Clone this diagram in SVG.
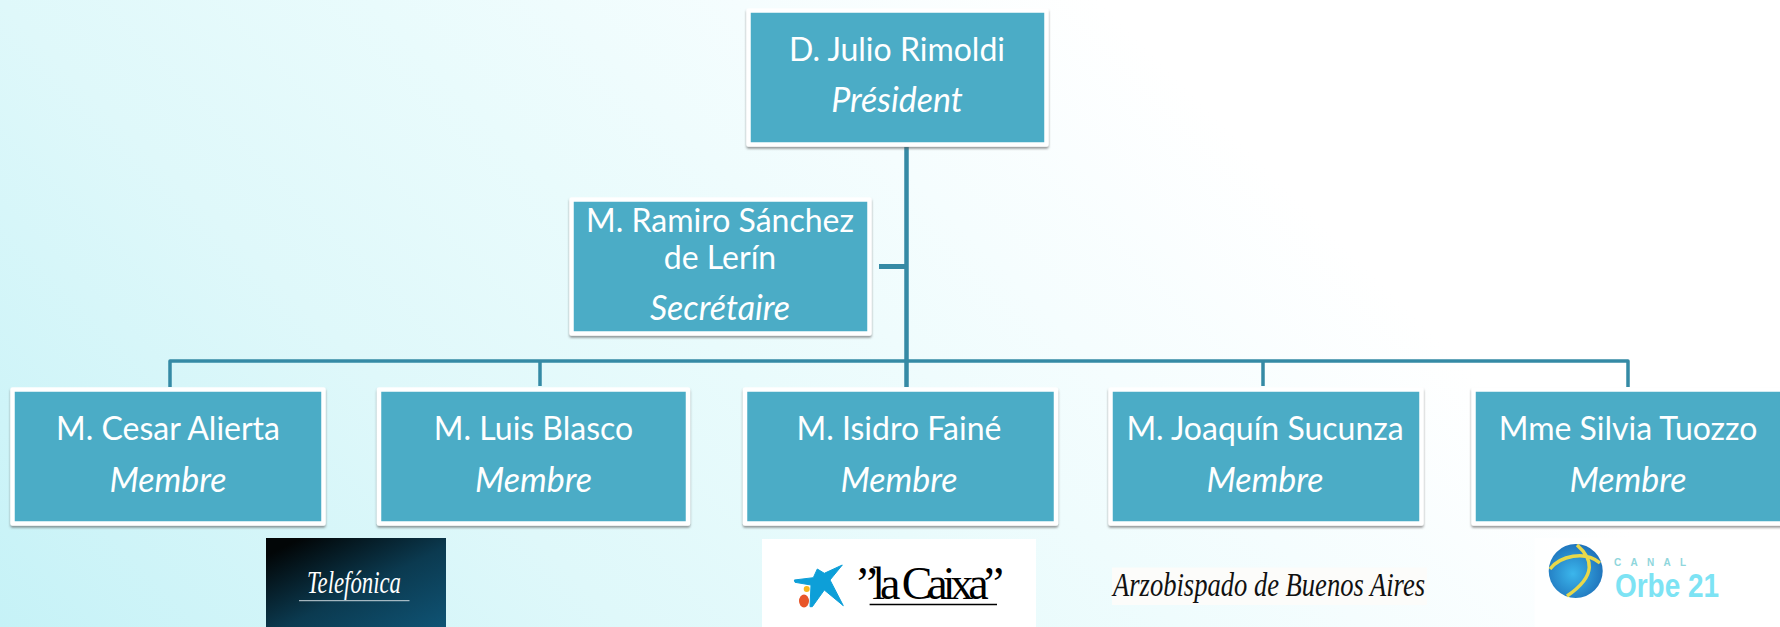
<svg xmlns="http://www.w3.org/2000/svg" width="1780" height="627" viewBox="0 0 1780 627">
<style>
.box{fill:#4bacc6;stroke:#fff;stroke-width:4.5;stroke-linejoin:round;filter:url(#sh)}
.n{font-family:"Lato","Carlito","Open Sans",sans-serif;font-size:32px;fill:#fff;text-anchor:middle}
.r{font-style:italic;font-size:34px}
.c{fill:none;stroke:#358aa5;stroke-width:3.5;stroke-linejoin:round}
</style>
<defs>
<linearGradient id="bg" gradientUnits="userSpaceOnUse" x1="0" y1="627" x2="863.5" y2="-236.5">
<stop offset="0" stop-color="#c6f2f7"/><stop offset="0.363" stop-color="#dff8fa"/><stop offset="0.577" stop-color="#e9fbfc"/><stop offset="0.79" stop-color="#f5fdfe"/><stop offset="1" stop-color="#ffffff"/>
</linearGradient>
<linearGradient id="tel" x1="0" y1="0" x2="1" y2="1">
<stop offset="0.1" stop-color="#020607"/><stop offset="0.55" stop-color="#0b3a50"/><stop offset="1" stop-color="#0f5374"/>
</linearGradient>
<radialGradient id="globe" cx="0.45" cy="0.55" r="0.6">
<stop offset="0" stop-color="#3bb6ec"/><stop offset="1" stop-color="#1d6fb8"/>
</radialGradient>
<filter id="sh" x="-5%" y="-5%" width="110%" height="115%">
<feDropShadow dx="0" dy="2" stdDeviation="1.2" flood-color="#555" flood-opacity="0.6"/>
</filter>
</defs>
<rect width="1780" height="627" fill="url(#bg)"/>
<g id="connectors">
<path class="c" style="stroke-width:4.5" d="M906.5 147V387"/>
<path class="c" style="stroke-width:5" d="M879 266.5H906"/>
<path class="c" d="M170 387V361H1628V387"/>
<path class="c" d="M540 361V386"/>
<path class="c" d="M1263 361V386"/>
</g>
<g id="president"><rect class="box" x="748.5" y="10.5" width="298" height="134"/>
<text class="n" x="897" y="61">D. Julio Rimoldi</text><text class="n r" x="897" y="112">Président</text></g>
<g id="secretaire"><rect class="box" x="571.5" y="199.5" width="298" height="134"/>
<text class="n" x="720" y="232">M. Ramiro Sánchez</text><text class="n" x="720" y="269">de Lerín</text><text class="n r" x="720" y="320">Secrétaire</text></g>
<g id="alierta"><rect class="box" x="12.5" y="389.5" width="311" height="134"/>
<text class="n" x="168" y="440">M. Cesar Alierta</text><text class="n r" x="168" y="492">Membre</text></g>
<g id="blasco"><rect class="box" x="379" y="389.5" width="309" height="134"/>
<text class="n" x="533.5" y="440">M. Luis Blasco</text><text class="n r" x="533.5" y="492">Membre</text></g>
<g id="faine"><rect class="box" x="745" y="389.5" width="311" height="134"/>
<text class="n" x="899" y="440">M. Isidro Fainé</text><text class="n r" x="899" y="492">Membre</text></g>
<g id="sucunza"><rect class="box" x="1110.5" y="389.5" width="311" height="134"/>
<text class="n" x="1265" y="440">M. Joaquín Sucunza</text><text class="n r" x="1265" y="492">Membre</text></g>
<g id="tuozzo"><rect class="box" x="1473.5" y="389.5" width="320" height="134"/>
<text class="n" x="1628" y="440">Mme Silvia Tuozzo</text><text class="n r" x="1628" y="492">Membre</text></g>
<g id="logo-telefonica"><rect x="266" y="538" width="180" height="89" fill="url(#tel)"/>
<text x="354" y="593" font-family="'Liberation Serif',serif" font-style="italic" font-size="31" fill="#fff" text-anchor="middle" textLength="94" lengthAdjust="spacingAndGlyphs">Telefónica</text>
<path d="M299 600.7H409.5" stroke="#c8d4da" stroke-width="1"/></g>
<g id="logo-caixa"><rect x="762" y="539" width="274" height="88" fill="#fff"/>
<polygon points="842.3,565 824.3,573.3 817.3,569 813.3,577.7 794.3,580 795,582.3 811,585 810,606.7 812.3,606.7 824.3,590 843.3,605.7 830,580" fill="#0d9fd8" stroke="#0d9fd8" stroke-width="1" stroke-linejoin="round"/>
<circle cx="806.7" cy="589" r="3" fill="#f7b71d"/><ellipse cx="804" cy="601" rx="5" ry="6.5" fill="#e8562a"/>
<text x="857" y="599" font-family="'Liberation Serif',serif" font-size="46" fill="#000" textLength="147" lengthAdjust="spacing">”la Caixa”</text>
<path d="M869.6 604.5H997" stroke="#000" stroke-width="1.5"/></g>
<g id="logo-arzobispado"><rect x="1112" y="567.5" width="315" height="37.5" fill="#fcfcfa"/>
<text x="1113" y="596" font-family="'Liberation Serif',serif" font-style="italic" font-size="34" fill="#111" textLength="312" lengthAdjust="spacingAndGlyphs">Arzobispado de Buenos Aires</text></g>
<g id="logo-orbe"><rect x="1534.5" y="538" width="199.5" height="89" fill="#fff" fill-opacity="0.75"/>
<ellipse cx="1575.7" cy="571" rx="27" ry="27" fill="url(#globe)"/>
<path d="M1550 569C1560 556 1585 550 1600 563M1577 545C1592 558 1598 575 1567 596" fill="none" stroke="#e8d84a" stroke-width="3.5"/>
<text x="1614" y="566" font-family="'Liberation Sans',sans-serif" font-weight="bold" font-size="10" fill="#8fd6dc" textLength="72">CANAL</text>
<text x="1615" y="597" font-family="'Liberation Sans',sans-serif" font-weight="bold" font-size="34" fill="#7de3f4" textLength="104" lengthAdjust="spacingAndGlyphs">Orbe 21</text></g>
</svg>
